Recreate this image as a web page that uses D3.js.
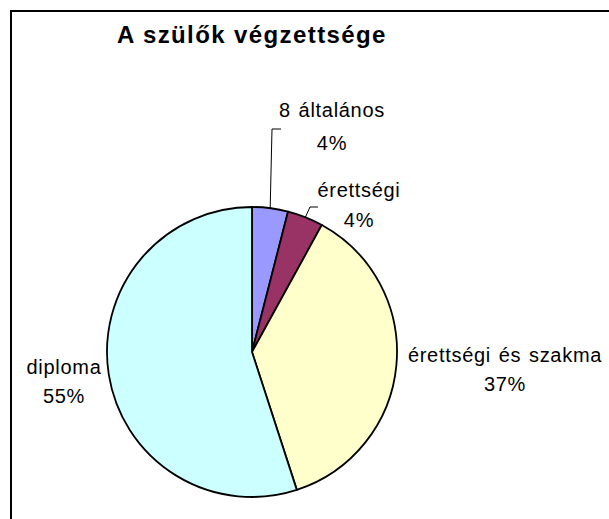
<!DOCTYPE html>
<html>
<head>
<meta charset="utf-8">
<script src="https://cdn.jsdelivr.net/npm/d3@7"></script>
<style>
  body { margin: 0; background: #fff; }
  text { font-family: "Liberation Sans", Arial, sans-serif; fill: #000; }
</style>
</head>
<body>
<div id="chart"></div>
<script>
var categories = ["8 általános", "érettségi", "érettségi és szakma", "diploma"]
var values = [4, 4, 37, 55]
var colors = ["#9999FF", "#993366", "#FFFFCC", "#CCFFFF"]
var title = "A szülők végzettsége"

var width = 609, height = 519
var cx = 252, cy = 352, radius = 145

// where Excel put each label (centre of the two lines) and the leader elbow
var label_layout = [
    {x: 332, y: 110, gap: 33, elbow: [272, 129], end: [281, 129]},
    {x: 359, y: 190, gap: 30, elbow: [310, 207], end: [318, 207]},
    {x: 505, y: 355, gap: 29, elbow: null},
    {x: 64, y: 367, gap: 29, elbow: null}
]

var svg = d3.select("#chart").append("svg")
    .attr("width", width)
    .attr("height", height)

// frame (only left and top edges fall inside the picture)
svg.append("path")
    .attr("d", "M11," + height + "V11H" + width)
    .attr("fill", "none")
    .attr("stroke", "#000")
    .attr("stroke-width", 2)

svg.append("text")
    .text(title)
    .attr("x", 117)
    .attr("y", 43)
    .style("font-size", "24px")
    .style("font-weight", "bold")
    .style("letter-spacing", "1.4px")

var total = d3.sum(values)
var pie = d3.pie().sort(null).value(function(d){ return d })
var arcs = pie(values)
var arc = d3.arc().innerRadius(0).outerRadius(radius)

var pie_g = svg.append("g")
    .attr("transform", "translate(" + cx + "," + cy + ")")

pie_g.selectAll(".slice")
    .data(arcs).enter()
    .append("path")
    .attr("class", "slice")
    .attr("d", arc)
    .attr("fill", function(d, i){ return colors[i] })
    .attr("stroke", "#000")
    .attr("stroke-width", 1.8)
    .attr("stroke-linejoin", "round")

// leader lines
arcs.forEach(function(d, i){
    var lay = label_layout[i]
    if (!lay.elbow) return
    var a = (d.startAngle + d.endAngle) / 2
    var sx = cx + radius * Math.sin(a)
    var sy = cy - radius * Math.cos(a)
    svg.append("polyline")
        .attr("points", [[sx, sy], lay.elbow, lay.end].map(function(p){ return p.join(",") }).join(" "))
        .attr("fill", "none")
        .attr("stroke", "#000")
        .attr("stroke-width", 1)
})

// labels
var labels = svg.selectAll(".lbl")
    .data(arcs).enter()
    .append("text")
    .attr("class", "lbl")
    .attr("text-anchor", "middle")
    .style("font-size", "20px")
    .style("letter-spacing", "0.7px")
    .style("word-spacing", "1.5px")
labels.append("tspan")
    .attr("x", function(d, i){ return label_layout[i].x })
    .attr("y", function(d, i){ return label_layout[i].y + 7 })
    .text(function(d, i){ return categories[i] })
labels.append("tspan")
    .attr("x", function(d, i){ return label_layout[i].x })
    .attr("y", function(d, i){ return label_layout[i].y + 7 + label_layout[i].gap })
    .text(function(d){ return Math.round(d.value / total * 100) + "%" })
</script>
</body>
</html>
